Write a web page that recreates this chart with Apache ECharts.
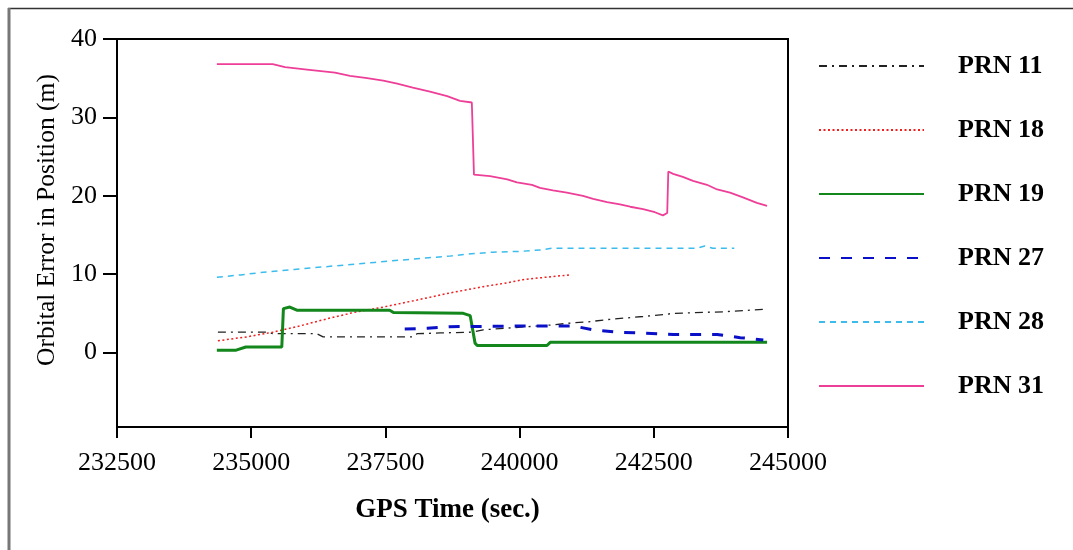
<!DOCTYPE html>
<html><head><meta charset="utf-8">
<script src="https://cdn.jsdelivr.net/npm/echarts@6/dist/echarts.min.js"></script>
<style>html,body{margin:0;padding:0;background:#fff}#c{width:1073px;height:550px}</style>
</head><body><div id="c"></div>
<script>
// ---- data ----
const seriesNames = ['PRN 11', 'PRN 18', 'PRN 19', 'PRN 27', 'PRN 28', 'PRN 31'];
const xTicks = [232500, 235000, 237500, 240000, 242500, 245000];
const yTicks = [0, 10, 20, 30, 40];

const prn11T = [234380, 235290, 235400, 236220, 236340, 238010, 238090, 238520, 239130, 239320, 240570, 241000, 241260, 241630, 242300, 242750, 242860, 243790, 244540, 244610];
const prn11V = [2.6, 2.6, 2.4, 2.4, 2.0, 2.0, 2.4, 2.5, 2.6, 2.9, 3.5, 3.8, 3.9, 4.2, 4.6, 4.9, 5.0, 5.2, 5.5, 5.6];

const prn18T = [234380, 234920, 235400, 235910, 236410, 236900, 237460, 238090, 238700, 239320, 239770, 240060, 240620, 240940];
const prn18V = [1.5, 2.0, 2.6, 3.4, 4.3, 5.1, 5.8, 6.7, 7.6, 8.4, 8.9, 9.3, 9.7, 9.9];

const prn19T = [234360, 234720, 234900, 235570, 235600, 235720, 235850, 237580, 237650, 238950, 239080, 239170, 239210, 240510, 240570, 244610];
const prn19V = [0.3, 0.3, 0.7, 0.7, 5.6, 5.8, 5.4, 5.4, 5.1, 5.0, 4.7, 1.2, 0.9, 0.9, 1.3, 1.3];

const prn27T = [237860, 238280, 238700, 240380, 240990, 241370, 241820, 242250, 242860, 243680, 244110, 244540];
const prn27V = [3.0, 3.1, 3.3, 3.4, 3.4, 2.9, 2.6, 2.5, 2.3, 2.3, 1.9, 1.6];

const prn28T = [234360, 234800, 235300, 235800, 236300, 236800, 237300, 237800, 238300, 238700, 239100, 239500, 240000, 240400, 240600, 241500, 242500, 243300, 243450, 243600, 244000];
const prn28V = [9.6, 9.9, 10.3, 10.6, 10.9, 11.2, 11.5, 11.8, 12.1, 12.3, 12.6, 12.8, 12.9, 13.1, 13.3, 13.3, 13.3, 13.3, 13.6, 13.3, 13.3];

const prn31T = [234360, 235400, 235630, 236040, 236560, 236840, 237160, 237460, 237720, 238010, 238330, 238650, 238890, 239110, 239150, 239450, 239770, 239950, 240230, 240380, 240620, 240880, 241180, 241370, 241630, 241870, 242060, 242300, 242520, 242670, 242750, 242770, 242860, 243040, 243230, 243490, 243680, 243920, 244160, 244420, 244610];
const prn31V = [36.8, 36.8, 36.4, 36.1, 35.7, 35.3, 35.0, 34.7, 34.3, 33.8, 33.3, 32.7, 32.1, 31.9, 22.7, 22.5, 22.1, 21.7, 21.4, 21.0, 20.7, 20.4, 20.0, 19.6, 19.2, 18.9, 18.6, 18.3, 17.9, 17.5, 17.8, 23.1, 22.8, 22.4, 21.9, 21.4, 20.8, 20.4, 19.8, 19.1, 18.7];

// ---- chart ----
const zip = (a, b) => a.map((t, i) => [t, b[i]]);
const FONT = '"Liberation Serif", "Times New Roman", serif';
const styles = [
  { color: '#222222', width: 1.3, type: [8, 5, 2, 5] },
  { color: '#ee2020', width: 1.5, type: [2, 2.5] },
  { color: '#13861c', width: 3, type: 'solid' },
  { color: '#0a10c8', width: 3, type: [11, 11] },
  { color: '#3cbcec', width: 1.5, type: [6, 5] },
  { color: '#ee3f98', width: 1.8, type: 'solid' }
];
const datasets = [zip(prn11T, prn11V), zip(prn18T, prn18V), zip(prn19T, prn19V), zip(prn27T, prn27V), zip(prn28T, prn28V), zip(prn31T, prn31V)];

const chart = echarts.init(document.getElementById('c'), null, { renderer: 'canvas' });
chart.setOption({
  animation: false,
  backgroundColor: '#fff',
  grid: { left: 117, right: 285, top: 39, bottom: 123, show: true, borderColor: '#000', borderWidth: 2, containLabel: false },
  xAxis: {
    type: 'value', min: xTicks[0], max: xTicks[xTicks.length - 1], interval: 2500,
    axisLine: { show: false, onZero: false },
    axisTick: { show: true, inside: false, length: 11, lineStyle: { color: '#000', width: 2 } },
    axisLabel: { fontFamily: FONT, fontSize: 26, color: '#000', margin: 23, formatter: v => String(v) },
    splitLine: { show: false },
    name: 'GPS Time (sec.)', nameLocation: 'middle', nameGap: 70,
    nameTextStyle: { fontFamily: FONT, fontSize: 27, fontWeight: 'bold', color: '#000', padding: [0, 10, 0, 0] }
  },
  yAxis: {
    type: 'value', min: -9.5, max: 40,
    axisLine: { show: false, onZero: false },
    axisTick: { show: true, length: 14, customValues: yTicks, lineStyle: { color: '#000', width: 2 } },
    axisLabel: { fontFamily: FONT, fontSize: 26, color: '#000', margin: 20, customValues: yTicks },
    splitLine: { show: false },
    name: 'Orbital Error in Position (m)', nameLocation: 'middle', nameGap: 50, nameRotate: 90,
    nameTextStyle: { fontFamily: FONT, fontSize: 25.5, color: '#000', padding: [0, 0, 0, 26] }
  },
  legend: {
    orient: 'vertical', left: 818, top: 51, padding: 0, itemWidth: 105, itemHeight: 10, itemGap: 34,
    itemStyle: { opacity: 0, borderWidth: 0 },
    textStyle: { fontFamily: FONT, fontSize: 26, fontWeight: 'bold', color: '#000', lineHeight: 30, padding: [0, 0, 0, 29] },
    data: seriesNames
  },
  graphic: [
    { type: 'line', shape: { x1: 8, y1: 8.5, x2: 1073, y2: 8.5 }, style: { stroke: '#333', lineWidth: 1.5 } },
    { type: 'line', shape: { x1: 9, y1: 8, x2: 9, y2: 550 }, style: { stroke: '#777', lineWidth: 3 } },
    { type: 'line', shape: { x1: 117, y1: 427, x2: 117, y2: 438 }, style: { stroke: '#000', lineWidth: 2 } }
  ],
  series: seriesNames.map((n, i) => ({
    name: n, type: 'line', data: datasets[i], symbol: 'none', showSymbol: false,
    color: styles[i].color,
    lineStyle: { color: styles[i].color, width: styles[i].width, type: styles[i].type },
    z: 2 + i
  }))
});
</script>
</body></html>
